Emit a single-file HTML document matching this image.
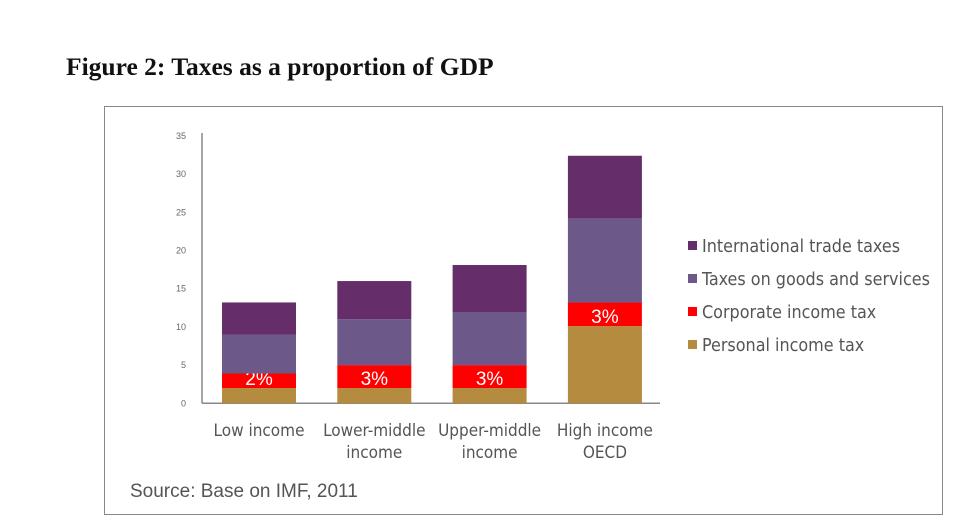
<!DOCTYPE html>
<html><head><meta charset="utf-8"><style>
body{margin:0;width:979px;height:523px;background:#fff;overflow:hidden;position:relative;font-family:"Liberation Sans",sans-serif}
#title{position:absolute;left:66px;top:52px;font:bold 25.5px "Liberation Serif",serif;color:#111}
#frame{position:absolute;left:104px;top:106px;width:839px;height:409px;border:1px solid #888;box-sizing:border-box}
svg{position:absolute;left:0;top:0}
</style></head><body>
<div id="title">Figure 2: Taxes as a proportion of GDP</div>
<div id="frame"></div>
<svg id="chart" width="979" height="523"></svg>
<script>
const categories=[["Low income"],["Lower-middle","income"],["Upper-middle","income"],["High income","OECD"]];
const personal=[2,2,2,10.1];
const corporate=[1.9,3,3,3.1];
const goods=[5.1,6,6.9,11];
const trade=[4.2,5,6.2,8.2];
const corpLabels=["2%","3%","3%","3%"];
const yTicks=[0,5,10,15,20,25,30,35];
const seriesNames=["International trade taxes","Taxes on goods and services","Corporate income tax","Personal income tax"];
const colors={trade:"#652d69",goods:"#6c5889",corp:"#ff0000",personal:"#b58b40"};
const NS="http://www.w3.org/2000/svg";
const svg=document.getElementById('chart');
const y0=403.3,ppu=7.64;
function y(v){return y0-v*ppu;}
function x(i){return 222+i*115.3;}
const bw=74;
function el(t,a){const e=document.createElementNS(NS,t);for(const k in a)e.setAttribute(k,a[k]);svg.appendChild(e);return e;}
let ax=el('line',{x1:202,y1:133,x2:202,y2:y0,stroke:'#888','stroke-width':1.5});


let bx=el('line',{x1:202,y1:y0,x2:660,y2:y0,stroke:'#888','stroke-width':1.5});


yTicks.forEach(t=>{const e=el('text',{x:186,y:y(t)+3,'text-anchor':'end','font-size':9,fill:'#666'});e.textContent=t;

});
categories.forEach((c,i)=>{
  let base=0;
  const segs=[['personal',personal[i]],['corp',corporate[i]],['goods',goods[i]],['trade',trade[i]]];
  segs.forEach(([k,v])=>{const r=el('rect',{x:x(i),y:y(base+v),width:bw,height:v*ppu,fill:colors[k]});
    
    
    if(k==='corp'){const t=el('text',{x:x(i)+bw/2,y:y(base)-3,'text-anchor':'middle','font-size':19,fill:'#fff'});t.textContent=corpLabels[i];
      
      }
    base+=v;});
  c.forEach((line,j)=>{const t=el('text',{x:x(i)+bw/2,y:436+j*22,'text-anchor':'middle','font-size':17,'font-family':'"DejaVu Sans Condensed","Liberation Sans Narrow",sans-serif',fill:'#555'});t.textContent=line;
    
    });
});
const legKeys=['trade','goods','corp','personal'];
seriesNames.forEach((n,i)=>{const yy=246+i*33;
  const r=el('rect',{x:688,y:yy-5,width:9,height:9,fill:colors[legKeys[i]]});
  
  
  const t=el('text',{x:702,y:yy+6,'font-size':17.8,'font-family':'"DejaVu Sans Condensed","Liberation Sans Narrow",sans-serif',fill:'#555'});t.textContent=n;
  
  });
const s=el('text',{x:130,y:497,'font-size':19,fill:'#555'});s.textContent="Source: Base on IMF, 2011";


</script>
</body></html>
